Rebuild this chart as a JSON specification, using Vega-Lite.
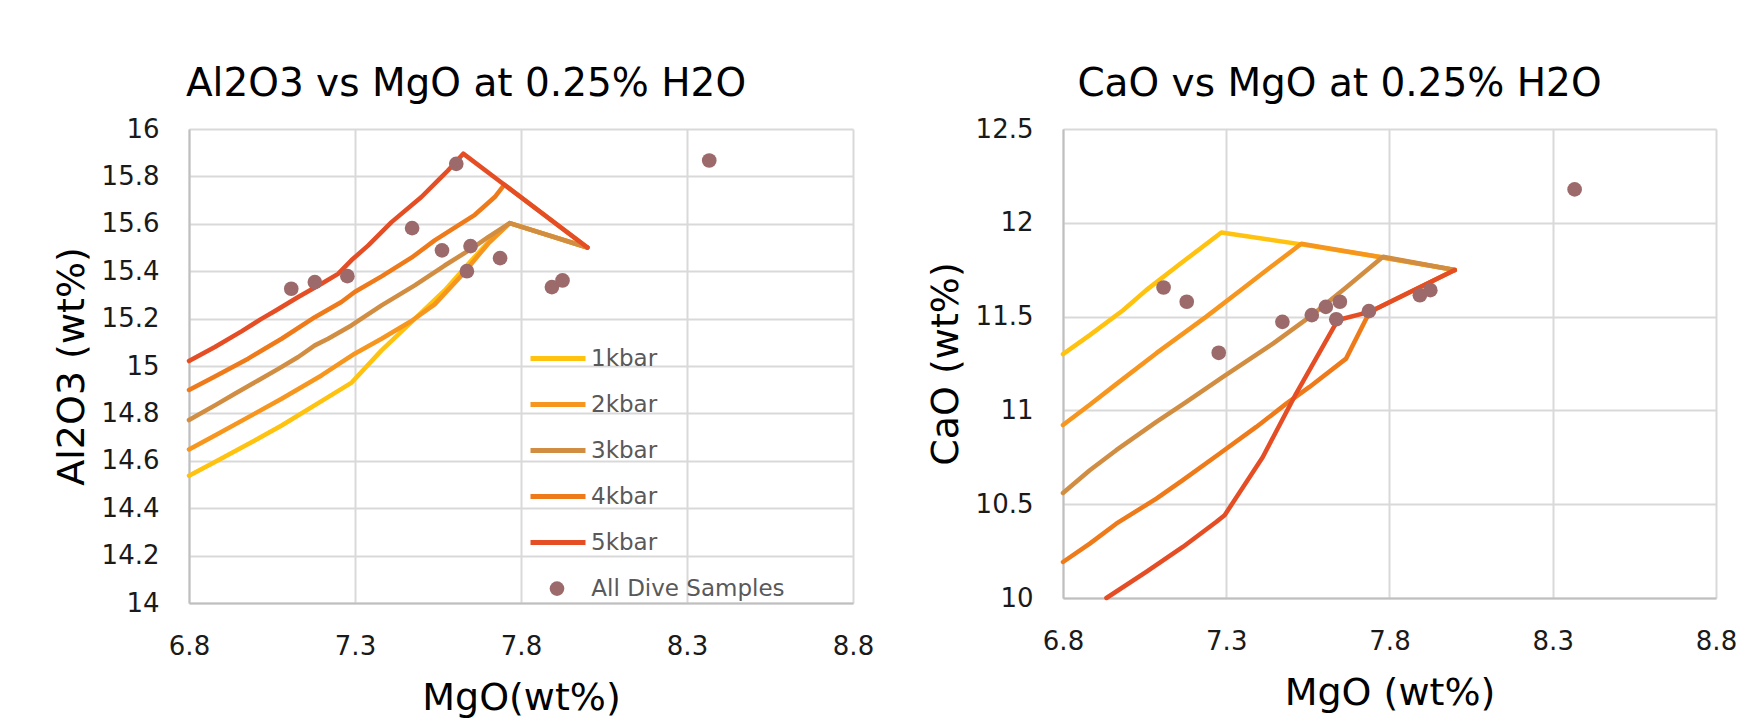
{
  "$schema": "https://vega.github.io/schema/vega-lite/v6.json",
  "background": "#ffffff",
  "padding": {"left": 53, "top": 65, "right": 5, "bottom": 3},
  "bounds": "flush",
  "spacing": 210,
  "config": {
    "font": "DejaVu Sans",
    "view": {"stroke": null},
    "axis": {
      "labelFont": "DejaVu Sans", "labelFontSize": 26, "labelColor": "#1a1a1a",
      "titleFont": "DejaVu Sans", "titleFontSize": 38, "titleFontWeight": "normal", "titleColor": "#000000",
      "grid": true, "gridColor": "#d9d9d9", "gridWidth": 2,
      "domainColor": "#bfbfbf", "domainWidth": 2, "ticks": false,
      "labelPadding": 30, "labelFlush": false, "labelOverlap": false
    },
    "title": {"font": "DejaVu Sans", "fontSize": 39, "fontWeight": "normal", "color": "#000000"},
    "legend": {"labelFont": "DejaVu Sans", "labelFontSize": 23, "labelColor": "#595959", "padding": 0, "title": null, "labelLimit": 0}
  },
  "datasets": {
    "samples": [
      {"MgO": 7.108, "Al2O3": 15.326, "CaO": 11.655},
      {"MgO": 7.179, "Al2O3": 15.354, "CaO": 11.579},
      {"MgO": 7.277, "Al2O3": 15.379, "CaO": 11.307},
      {"MgO": 7.472, "Al2O3": 15.582, "CaO": 11.472},
      {"MgO": 7.562, "Al2O3": 15.488, "CaO": 11.508},
      {"MgO": 7.605, "Al2O3": 15.853, "CaO": 11.552},
      {"MgO": 7.637, "Al2O3": 15.400, "CaO": 11.486},
      {"MgO": 7.648, "Al2O3": 15.506, "CaO": 11.579},
      {"MgO": 7.737, "Al2O3": 15.455, "CaO": 11.529},
      {"MgO": 7.893, "Al2O3": 15.333, "CaO": 11.614},
      {"MgO": 7.925, "Al2O3": 15.361, "CaO": 11.641},
      {"MgO": 8.367, "Al2O3": 15.867, "CaO": 12.178}
    ],
    "al_lines": [
      {"series": "1kbar", "step": 0, "MgO": 8.0, "Al2O3": 15.5},
      {"series": "1kbar", "step": 1, "MgO": 7.766, "Al2O3": 15.603},
      {"series": "1kbar", "step": 2, "MgO": 7.711, "Al2O3": 15.537},
      {"series": "1kbar", "step": 3, "MgO": 7.651, "Al2O3": 15.446},
      {"series": "1kbar", "step": 4, "MgO": 7.57, "Al2O3": 15.319},
      {"series": "1kbar", "step": 5, "MgO": 7.48, "Al2O3": 15.199},
      {"series": "1kbar", "step": 6, "MgO": 7.38, "Al2O3": 15.066},
      {"series": "1kbar", "step": 7, "MgO": 7.29, "Al2O3": 14.93},
      {"series": "1kbar", "step": 8, "MgO": 7.199, "Al2O3": 14.852},
      {"series": "1kbar", "step": 9, "MgO": 7.079, "Al2O3": 14.749},
      {"series": "1kbar", "step": 10, "MgO": 6.998, "Al2O3": 14.686},
      {"series": "1kbar", "step": 11, "MgO": 6.878, "Al2O3": 14.595},
      {"series": "1kbar", "step": 12, "MgO": 6.8, "Al2O3": 14.537},
      {"series": "2kbar", "step": 0, "MgO": 8.0, "Al2O3": 15.5},
      {"series": "2kbar", "step": 1, "MgO": 7.766, "Al2O3": 15.603},
      {"series": "2kbar", "step": 2, "MgO": 7.701, "Al2O3": 15.516},
      {"series": "2kbar", "step": 3, "MgO": 7.621, "Al2O3": 15.382},
      {"series": "2kbar", "step": 4, "MgO": 7.54, "Al2O3": 15.26},
      {"series": "2kbar", "step": 5, "MgO": 7.47, "Al2O3": 15.19},
      {"series": "2kbar", "step": 6, "MgO": 7.38, "Al2O3": 15.115},
      {"series": "2kbar", "step": 7, "MgO": 7.299, "Al2O3": 15.052},
      {"series": "2kbar", "step": 8, "MgO": 7.199, "Al2O3": 14.96},
      {"series": "2kbar", "step": 9, "MgO": 7.079, "Al2O3": 14.862},
      {"series": "2kbar", "step": 10, "MgO": 6.998, "Al2O3": 14.799},
      {"series": "2kbar", "step": 11, "MgO": 6.878, "Al2O3": 14.707},
      {"series": "2kbar", "step": 12, "MgO": 6.8, "Al2O3": 14.648},
      {"series": "3kbar", "step": 0, "MgO": 8.0, "Al2O3": 15.5},
      {"series": "3kbar", "step": 1, "MgO": 7.766, "Al2O3": 15.603},
      {"series": "3kbar", "step": 2, "MgO": 7.701, "Al2O3": 15.544},
      {"series": "3kbar", "step": 3, "MgO": 7.651, "Al2O3": 15.495},
      {"series": "3kbar", "step": 4, "MgO": 7.57, "Al2O3": 15.424},
      {"series": "3kbar", "step": 5, "MgO": 7.48, "Al2O3": 15.34},
      {"series": "3kbar", "step": 6, "MgO": 7.38, "Al2O3": 15.256},
      {"series": "3kbar", "step": 7, "MgO": 7.289, "Al2O3": 15.171},
      {"series": "3kbar", "step": 8, "MgO": 7.219, "Al2O3": 15.115},
      {"series": "3kbar", "step": 9, "MgO": 7.179, "Al2O3": 15.087},
      {"series": "3kbar", "step": 10, "MgO": 7.129, "Al2O3": 15.038},
      {"series": "3kbar", "step": 11, "MgO": 7.069, "Al2O3": 14.988},
      {"series": "3kbar", "step": 12, "MgO": 7.008, "Al2O3": 14.939},
      {"series": "3kbar", "step": 13, "MgO": 6.938, "Al2O3": 14.883},
      {"series": "3kbar", "step": 14, "MgO": 6.878, "Al2O3": 14.834},
      {"series": "3kbar", "step": 15, "MgO": 6.8, "Al2O3": 14.772},
      {"series": "4kbar", "step": 0, "MgO": 8.0, "Al2O3": 15.5},
      {"series": "4kbar", "step": 1, "MgO": 7.75, "Al2O3": 15.765},
      {"series": "4kbar", "step": 2, "MgO": 7.721, "Al2O3": 15.713},
      {"series": "4kbar", "step": 3, "MgO": 7.661, "Al2O3": 15.638},
      {"series": "4kbar", "step": 4, "MgO": 7.611, "Al2O3": 15.593},
      {"series": "4kbar", "step": 5, "MgO": 7.54, "Al2O3": 15.53},
      {"series": "4kbar", "step": 6, "MgO": 7.47, "Al2O3": 15.457},
      {"series": "4kbar", "step": 7, "MgO": 7.38, "Al2O3": 15.378},
      {"series": "4kbar", "step": 8, "MgO": 7.299, "Al2O3": 15.312},
      {"series": "4kbar", "step": 9, "MgO": 7.259, "Al2O3": 15.27},
      {"series": "4kbar", "step": 10, "MgO": 7.179, "Al2O3": 15.206},
      {"series": "4kbar", "step": 11, "MgO": 7.079, "Al2O3": 15.115},
      {"series": "4kbar", "step": 12, "MgO": 7.028, "Al2O3": 15.073},
      {"series": "4kbar", "step": 13, "MgO": 6.978, "Al2O3": 15.031},
      {"series": "4kbar", "step": 14, "MgO": 6.878, "Al2O3": 14.956},
      {"series": "4kbar", "step": 15, "MgO": 6.8, "Al2O3": 14.899},
      {"series": "5kbar", "step": 0, "MgO": 8.0, "Al2O3": 15.5},
      {"series": "5kbar", "step": 1, "MgO": 7.626, "Al2O3": 15.896},
      {"series": "5kbar", "step": 2, "MgO": 7.58, "Al2O3": 15.825},
      {"series": "5kbar", "step": 3, "MgO": 7.56, "Al2O3": 15.797},
      {"series": "5kbar", "step": 4, "MgO": 7.5, "Al2O3": 15.713},
      {"series": "5kbar", "step": 5, "MgO": 7.41, "Al2O3": 15.607},
      {"series": "5kbar", "step": 6, "MgO": 7.34, "Al2O3": 15.509},
      {"series": "5kbar", "step": 7, "MgO": 7.289, "Al2O3": 15.446},
      {"series": "5kbar", "step": 8, "MgO": 7.249, "Al2O3": 15.389},
      {"series": "5kbar", "step": 9, "MgO": 7.199, "Al2O3": 15.347},
      {"series": "5kbar", "step": 10, "MgO": 7.129, "Al2O3": 15.291},
      {"series": "5kbar", "step": 11, "MgO": 7.059, "Al2O3": 15.232},
      {"series": "5kbar", "step": 12, "MgO": 7.018, "Al2O3": 15.199},
      {"series": "5kbar", "step": 13, "MgO": 6.958, "Al2O3": 15.146},
      {"series": "5kbar", "step": 14, "MgO": 6.878, "Al2O3": 15.08},
      {"series": "5kbar", "step": 15, "MgO": 6.8, "Al2O3": 15.021}
    ],
    "ca_lines": [
      {"series": "1kbar", "step": 0, "MgO": 8.0, "CaO": 11.748},
      {"series": "1kbar", "step": 1, "MgO": 7.78, "CaO": 11.815},
      {"series": "1kbar", "step": 2, "MgO": 7.53, "CaO": 11.885},
      {"series": "1kbar", "step": 3, "MgO": 7.285, "CaO": 11.948},
      {"series": "1kbar", "step": 4, "MgO": 7.167, "CaO": 11.792},
      {"series": "1kbar", "step": 5, "MgO": 7.055, "CaO": 11.641},
      {"series": "1kbar", "step": 6, "MgO": 6.984, "CaO": 11.534},
      {"series": "1kbar", "step": 7, "MgO": 6.882, "CaO": 11.401},
      {"series": "1kbar", "step": 8, "MgO": 6.8, "CaO": 11.3},
      {"series": "2kbar", "step": 0, "MgO": 8.0, "CaO": 11.748},
      {"series": "2kbar", "step": 1, "MgO": 7.78, "CaO": 11.815},
      {"series": "2kbar", "step": 2, "MgO": 7.53, "CaO": 11.888},
      {"series": "2kbar", "step": 3, "MgO": 7.433, "CaO": 11.76},
      {"series": "2kbar", "step": 4, "MgO": 7.346, "CaO": 11.643},
      {"series": "2kbar", "step": 5, "MgO": 7.239, "CaO": 11.5},
      {"series": "2kbar", "step": 6, "MgO": 7.086, "CaO": 11.305},
      {"series": "2kbar", "step": 7, "MgO": 6.963, "CaO": 11.14},
      {"series": "2kbar", "step": 8, "MgO": 6.882, "CaO": 11.03},
      {"series": "2kbar", "step": 9, "MgO": 6.8, "CaO": 10.922},
      {"series": "3kbar", "step": 0, "MgO": 8.0, "CaO": 11.748},
      {"series": "3kbar", "step": 1, "MgO": 7.78, "CaO": 11.819},
      {"series": "3kbar", "step": 2, "MgO": 7.667, "CaO": 11.655},
      {"series": "3kbar", "step": 3, "MgO": 7.563, "CaO": 11.508},
      {"series": "3kbar", "step": 4, "MgO": 7.443, "CaO": 11.356},
      {"series": "3kbar", "step": 5, "MgO": 7.29, "CaO": 11.179},
      {"series": "3kbar", "step": 6, "MgO": 7.178, "CaO": 11.045},
      {"series": "3kbar", "step": 7, "MgO": 7.086, "CaO": 10.939},
      {"series": "3kbar", "step": 8, "MgO": 6.963, "CaO": 10.788},
      {"series": "3kbar", "step": 9, "MgO": 6.882, "CaO": 10.681},
      {"series": "3kbar", "step": 10, "MgO": 6.8, "CaO": 10.56},
      {"series": "4kbar", "step": 0, "MgO": 8.0, "CaO": 11.748},
      {"series": "4kbar", "step": 1, "MgO": 7.739, "CaO": 11.525},
      {"series": "4kbar", "step": 2, "MgO": 7.667, "CaO": 11.276},
      {"series": "4kbar", "step": 3, "MgO": 7.555, "CaO": 11.125},
      {"series": "4kbar", "step": 4, "MgO": 7.484, "CaO": 11.036},
      {"series": "4kbar", "step": 5, "MgO": 7.392, "CaO": 10.912},
      {"series": "4kbar", "step": 6, "MgO": 7.28, "CaO": 10.77},
      {"series": "4kbar", "step": 7, "MgO": 7.167, "CaO": 10.628},
      {"series": "4kbar", "step": 8, "MgO": 7.086, "CaO": 10.53},
      {"series": "4kbar", "step": 9, "MgO": 6.963, "CaO": 10.396},
      {"series": "4kbar", "step": 10, "MgO": 6.882, "CaO": 10.29},
      {"series": "4kbar", "step": 11, "MgO": 6.8, "CaO": 10.192},
      {"series": "5kbar", "step": 0, "MgO": 8.0, "CaO": 11.748},
      {"series": "5kbar", "step": 1, "MgO": 7.739, "CaO": 11.525},
      {"series": "5kbar", "step": 2, "MgO": 7.642, "CaO": 11.482},
      {"series": "5kbar", "step": 3, "MgO": 7.514, "CaO": 11.09},
      {"series": "5kbar", "step": 4, "MgO": 7.412, "CaO": 10.752},
      {"series": "5kbar", "step": 5, "MgO": 7.295, "CaO": 10.441},
      {"series": "5kbar", "step": 6, "MgO": 7.269, "CaO": 10.405},
      {"series": "5kbar", "step": 7, "MgO": 7.167, "CaO": 10.272},
      {"series": "5kbar", "step": 8, "MgO": 7.055, "CaO": 10.139},
      {"series": "5kbar", "step": 9, "MgO": 6.933, "CaO": 10.0}
    ]
  },
  "resolve": {
    "scale": {"stroke": "independent", "fill": "independent"},
    "legend": {"stroke": "independent", "fill": "independent"}
  },
  "hconcat": [
    {
      "width": 664,
      "height": 474,
      "title": {"text": "Al2O3 vs MgO at 0.25% H2O", "frame": "group", "anchor": "middle", "dx": -55, "offset": -19, "baseline": "alphabetic"},
      "layer": [
        {
          "data": {"name": "al_lines"},
          "mark": {"type": "line", "strokeWidth": 4.5, "strokeJoin": "round", "strokeCap": "round"},
          "encoding": {
            "x": {"field": "MgO", "type": "quantitative", "scale": {"domain": [6.8, 8.8], "nice": false, "zero": false},
                  "axis": {"title": "MgO(wt%)", "values": [6.8, 7.3, 7.8, 8.3, 8.8], "format": ".1~f", "titlePadding": 20}},
            "y": {"field": "Al2O3", "type": "quantitative", "scale": {"domain": [14, 16], "nice": false, "zero": false},
                  "axis": {"title": "Al2O3 (wt%)", "values": [14, 14.2, 14.4, 14.6, 14.8, 15, 15.2, 15.4, 15.6, 15.8, 16], "format": ".1~f", "titlePadding": 10}},
            "stroke": {"field": "series", "type": "nominal",
                       "scale": {"domain": ["1kbar", "2kbar", "3kbar", "4kbar", "5kbar"], "range": ["#ffc20e", "#f7961e", "#d18e42", "#ee7a1a", "#e54d24"]},
                       "legend": {"orient": "none", "legendX": 339, "legendY": 217.6, "symbolType": "stroke", "symbolSize": 3025, "symbolStrokeWidth": 5, "clipHeight": 24, "rowPadding": 22, "labelOffset": 3}},
            "order": {"field": "step", "type": "quantitative"}
          }
        },
        {
          "data": {"name": "samples"},
          "mark": {"type": "circle", "size": 215, "opacity": 1},
          "encoding": {
            "x": {"field": "MgO", "type": "quantitative"},
            "y": {"field": "Al2O3", "type": "quantitative"},
            "fill": {"datum": "All Dive Samples", "type": "nominal", "scale": {"range": ["#9c6a6a"]},
                     "legend": {"orient": "none", "legendX": 356.5, "legendY": 447.6, "symbolType": "circle", "symbolSize": 215, "symbolStrokeWidth": 0, "clipHeight": 24, "labelOffset": 22.8, "symbolOpacity": 1}}
          }
        }
      ]
    },
    {
      "width": 653,
      "height": 469,
      "title": {"text": "CaO vs MgO at 0.25% H2O", "frame": "group", "anchor": "middle", "dx": -50, "offset": -19, "baseline": "alphabetic"},
      "layer": [
        {
          "data": {"name": "ca_lines"},
          "mark": {"type": "line", "strokeWidth": 4.5, "strokeJoin": "round", "strokeCap": "round"},
          "encoding": {
            "x": {"field": "MgO", "type": "quantitative", "scale": {"domain": [6.8, 8.8], "nice": false, "zero": false},
                  "axis": {"title": "MgO (wt%)", "values": [6.8, 7.3, 7.8, 8.3, 8.8], "format": ".1~f", "titlePadding": 20}},
            "y": {"field": "CaO", "type": "quantitative", "scale": {"domain": [10, 12.5], "nice": false, "zero": false},
                  "axis": {"title": "CaO (wt%)", "values": [10, 10.5, 11, 11.5, 12, 12.5], "format": ".1~f", "titlePadding": 10}},
            "stroke": {"field": "series", "type": "nominal",
                       "scale": {"domain": ["1kbar", "2kbar", "3kbar", "4kbar", "5kbar"], "range": ["#ffc20e", "#f7961e", "#d18e42", "#ee7a1a", "#e54d24"]},
                       "legend": null},
            "order": {"field": "step", "type": "quantitative"}
          }
        },
        {
          "data": {"name": "samples"},
          "mark": {"type": "circle", "size": 215, "opacity": 1},
          "encoding": {
            "x": {"field": "MgO", "type": "quantitative"},
            "y": {"field": "CaO", "type": "quantitative"},
            "fill": {"datum": "All Dive Samples", "type": "nominal", "scale": {"range": ["#9c6a6a"]}, "legend": null}
          }
        }
      ]
    }
  ]
}
